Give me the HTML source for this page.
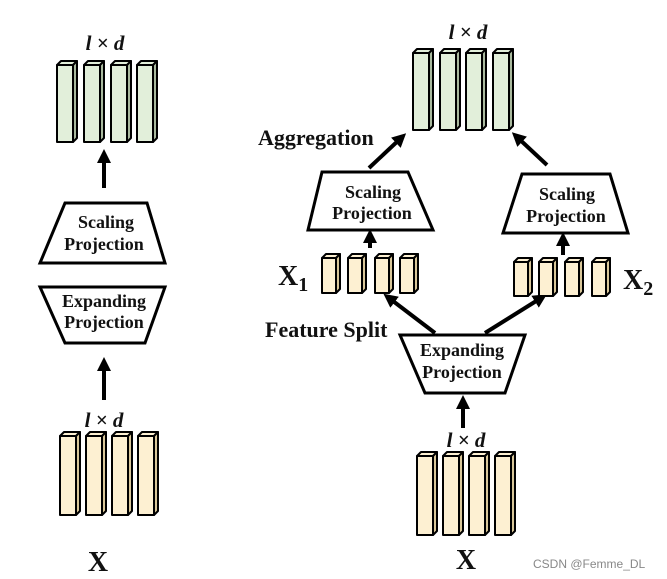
<!DOCTYPE html>
<html><head><meta charset="utf-8"><style>
html,body{margin:0;padding:0;background:#fff;width:667px;height:579px;overflow:hidden}
svg text{font-family:"Liberation Serif",serif;font-weight:bold;fill:#111}
</style></head><body>
<svg id="s" width="667" height="579" viewBox="0 0 667 579" xmlns="http://www.w3.org/2000/svg">
<defs>
<marker id="b" viewBox="0 0 10 10" markerWidth="14" markerHeight="14" refX="5" refY="5" orient="auto" markerUnits="userSpaceOnUse"><path d="M0,0 L10,5 L0,10 z" fill="#000"/></marker></defs>
<g stroke="#000" stroke-width="3" fill="#fff">
<polygon points="65,203 147,203 165,263 40,263"/>
<polygon points="40,287 165,287 145,343 65,343"/>
<polygon points="322,172 408,172 433,230 308,230"/>
<polygon points="522,174 610,174 628,233 503,233"/>
<polygon points="400,335 525,335 505,393 425,393"/>
</g>
<g stroke="#000" stroke-width="4" marker-end="url(#b)">
<line x1="104" y1="188" x2="104" y2="156"/>
<line x1="104" y1="400" x2="104" y2="364"/>
<line x1="369" y1="168" x2="401" y2="138"/>
<line x1="547" y1="165" x2="517" y2="137"/>
<line x1="435" y1="333" x2="389" y2="298"/>
<line x1="485" y1="333" x2="541" y2="298"/>
<line x1="463" y1="428" x2="463" y2="402"/>
<line x1="370" y1="248" x2="370" y2="236"/>
<line x1="563" y1="255" x2="563" y2="239"/>
</g>
<g text-anchor="middle" font-size="18">
<text x="106" y="228">Scaling</text><text x="104" y="250">Projection</text>
<text x="104" y="307">Expanding</text><text x="104" y="328">Projection</text>
<text x="373" y="198">Scaling</text><text x="372" y="219">Projection</text>
<text x="567" y="200">Scaling</text><text x="566" y="222">Projection</text>
<text x="462" y="356">Expanding</text><text x="462" y="378">Projection</text>
</g>
<g font-size="21" font-style="italic" text-anchor="middle">
<text x="105" y="50">l × d</text><text x="468" y="39">l × d</text>
<text x="104" y="427">l × d</text><text x="466" y="447">l × d</text>
</g>
<text x="258" y="145" font-size="22">Aggregation</text>
<text x="265" y="337" font-size="22">Feature Split</text>
<text x="278" y="285" font-size="28">X<tspan font-size="20" dy="6">1</tspan></text>
<text x="623" y="289" font-size="28">X<tspan font-size="20" dy="6">2</tspan></text>
<text x="98" y="571" font-size="28" text-anchor="middle">X</text>
<text x="466" y="569" font-size="28" text-anchor="middle">X</text>
<text x="533" y="568" font-size="12" style="font-family:'Liberation Sans',sans-serif;font-weight:normal;fill:#888">CSDN @Femme_DL</text>
</svg>
<script>
var s=document.getElementById('s'),NS='http://www.w3.org/2000/svg';
function bar(x,y1,y2,w,f,sd){var d=4;
 var g=document.createElementNS(NS,'g');g.setAttribute('stroke','#000');g.setAttribute('stroke-width','2');g.setAttribute('stroke-linejoin','round');
 g.innerHTML='<polygon points="'+(x)+','+(y1+d)+' '+(x+d)+','+y1+' '+(x+w+d)+','+y1+' '+(x+w)+','+(y1+d)+'" fill="'+f+'"/>'+
 '<polygon points="'+(x+w)+','+(y1+d)+' '+(x+w+d)+','+y1+' '+(x+w+d)+','+(y2-d)+' '+(x+w)+','+y2+'" fill="'+sd+'"/>'+
 '<rect x="'+x+'" y="'+(y1+d)+'" width="'+w+'" height="'+(y2-y1-d)+'" fill="'+f+'"/>';
 s.appendChild(g);}
var G='#e2efda',GS='#a9b99e',Y='#fdf0d2',YS='#d9c79a';
[57,84,111,137].forEach(function(x){bar(x,61,142,16,G,GS)});
[413,440,466,493].forEach(function(x){bar(x,49,130,16,G,GS)});
[60,86,112,138].forEach(function(x){bar(x,432,515,16,Y,YS)});
[417,443,469,495].forEach(function(x){bar(x,452,535,16,Y,YS)});
[322,348,375,400].forEach(function(x){bar(x,254,293,14,Y,YS)});
[514,539,565,592].forEach(function(x){bar(x,258,296,14,Y,YS)});
</script>
</body></html>
